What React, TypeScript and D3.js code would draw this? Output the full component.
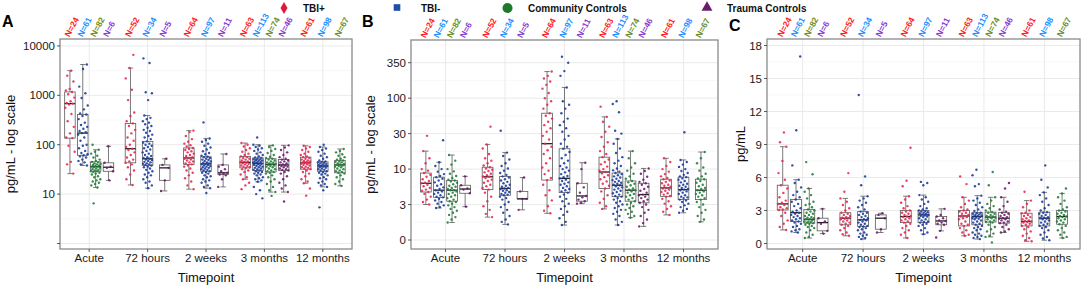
import React from "react";
import * as d3 from "d3";

const timepoints = ["Acute", "72 hours", "2 weeks", "3 months", "12 months"];
const groupNames = ["TBI+", "TBI-", "Community Controls", "Trauma Controls"];
// groups present at each timepoint (index into groupNames)
const groupsAtTp = [[0, 1, 2, 3], [0, 1, 3], [0, 1, 3], [0, 1, 2, 3], [0, 1, 2]];
const nAtTp = [[24, 61, 82, 6], [52, 34, 5], [64, 97, 11], [63, 113, 74, 46], [61, 98, 67]];

const pointColors = ["#e62a52", "#1c3d9c", "#23803a", "#6d1c6d"];
const labelColors = ["#ff1a1a", "#1e8fff", "#6b8e23", "#8a3bd1"];
const legendColors = ["#e3173c", "#1f4fa5", "#1d7a2b", "#6a1d6a"];

// ---------- Panel A (log scale) ----------
// box stats: [lower whisker, q1, median, q3, upper whisker]
const boxA = [
  [[26, 136, 680, 1170, 3160], [38, 61, 172, 410, 4200], [13.6, 29, 36, 45, 79], [19, 29, 35, 43, 93]],
  [[15.3, 43, 83, 270, 3560], [13.2, 38, 52, 117, 390], [11.6, 19, 34, 39, 52]],
  [[12.6, 40, 54, 86, 193], [13.2, 29, 41, 57, 134], [14, 25, 27, 39, 65]],
  [[20, 34, 44, 58, 108], [17.7, 30, 42, 54, 100], [11, 28, 40, 52, 97], [11, 30, 39, 50, 97]],
  [[16.6, 32, 43, 56, 95], [14, 29, 37, 45, 90], [14.7, 27, 39, 48, 82]],
];
const ptsA_acute = [
  [3160, 2500, 1900, 1350, 1250, 1170, 1050, 900, 760, 700, 680, 650, 560, 420, 300, 230, 170, 140, 136, 95, 72, 45, 40, 26],
  [4200, 3400, 1500, 1100, 880, 620, 520, 430, 410, 380, 330, 280, 250, 230, 210, 190, 180, 172, 160, 140, 120, 100, 95, 85, 75, 68, 64, 61, 58, 55, 50, 47, 44, 40, 38],
  [100, 79, 72, 66, 60, 55, 50, 47, 45, 44, 42, 41, 40, 39, 38, 37, 36, 36, 35, 34, 33, 32, 31, 30, 29, 29, 28, 27, 26, 25, 23, 22, 20, 19, 18, 17, 16, 15, 13.6, 6.5],
  [93, 43, 36, 34, 29, 19],
];
const ptsA_72h = [
  [6600, 3560, 2200, 1300, 800, 450, 380, 300, 270, 240, 200, 170, 140, 120, 100, 90, 83, 78, 70, 62, 55, 50, 46, 43, 40, 35, 30, 25, 20, 15.3],
  [5600, 4500, 1150, 1100, 800, 390, 350, 330, 300, 280, 260, 240, 220, 200, 190, 175, 160, 150, 140, 130, 117, 110, 105, 100, 95, 90, 85, 80, 75, 70, 66, 62, 59, 56, 54, 52, 50, 49, 47, 45, 44, 42, 41, 40, 39, 38, 36, 35, 33, 31, 29, 27, 25, 24, 22, 20, 18, 17, 15, 13.2],
  [52, 39, 34, 19, 11.6],
];
const ptsA_2w = [
  [193, 180, 150, 130, 115, 105, 98, 92, 86, 82, 78, 74, 70, 66, 62, 59, 56, 54, 52, 50, 48, 46, 44, 42, 40, 38, 36, 33, 30, 27, 24, 21, 18, 15, 12.6],
  [283, 134, 125, 115, 105, 95, 88, 80, 74, 68, 64, 60, 57, 56, 54, 52, 50, 49, 47, 46, 44, 43, 42, 41, 40, 39, 38, 37, 36, 35, 34, 33, 32, 31, 30, 29, 28, 27, 26, 24, 23, 22, 20, 19, 18, 17, 15, 14, 13.2, 10.5],
  [65, 39, 36, 32, 29, 27, 26, 25, 24, 20, 14],
];
const ptsA_3m = [
  [108, 100, 92, 85, 78, 72, 66, 62, 58, 56, 54, 52, 50, 48, 46, 45, 44, 43, 42, 41, 40, 38, 37, 36, 35, 34, 32, 30, 28, 25, 22, 20, 17, 15, 12.6],
  [140, 100, 95, 90, 85, 80, 75, 70, 66, 62, 58, 55, 54, 52, 51, 50, 49, 48, 47, 46, 45, 44, 43, 42, 42, 41, 40, 39, 38, 37, 36, 35, 34, 33, 32, 31, 30, 29, 28, 27, 26, 25, 24, 22, 21, 20, 19, 17.7, 14, 12, 10, 8.2],
  [97, 90, 82, 75, 68, 62, 57, 54, 52, 50, 48, 46, 44, 43, 42, 41, 40, 39, 38, 37, 36, 35, 33, 32, 30, 29, 28, 27, 26, 24, 22, 20, 18, 16, 14, 12, 11, 9.2],
  [97, 88, 78, 70, 62, 56, 52, 50, 48, 46, 44, 42, 40, 39, 38, 37, 36, 35, 33, 32, 31, 30, 28, 26, 23, 20, 17, 15, 13, 11, 7.1],
];
const ptsA_12m = [
  [95, 90, 84, 78, 72, 66, 62, 58, 56, 54, 52, 50, 48, 47, 46, 45, 44, 43, 42, 41, 40, 39, 38, 36, 35, 34, 33, 32, 30, 28, 26, 23, 20, 18, 16.6, 13, 9.3],
  [100, 90, 84, 78, 72, 66, 60, 56, 52, 48, 46, 45, 44, 43, 42, 41, 40, 39, 38, 37, 37, 36, 35, 34, 33, 32, 31, 30, 29, 28, 27, 26, 25, 24, 22, 21, 20, 18, 17, 16, 15, 14, 12, 5.4],
  [82, 75, 70, 64, 60, 56, 52, 50, 48, 46, 45, 44, 42, 41, 40, 39, 38, 37, 36, 35, 33, 32, 30, 29, 28, 27, 26, 24, 22, 20, 18, 16, 14.7],
];

// ---------- Panel B (pseudo-log scale) ----------
const boxB = [
  [[3.0, 4.7, 6.3, 8.8, 17.5], [2.6, 3.9, 5.0, 7.7, 12.4], [1.25, 3.4, 5.0, 6.9, 15.5], [2.75, 4.5, 5.2, 5.9, 7.9]],
  [[1.7, 5.1, 7.8, 10.6, 21.5], [1.1, 4.2, 5.3, 7.9, 16.7], [2.4, 3.7, 3.7, 4.8, 7.6]],
  [[2.05, 7.0, 22, 60, 256], [1.05, 4.6, 7.4, 18.8, 146], [3.1, 3.4, 4.1, 6.3, 12.2]],
  [[2.5, 5.3, 9.1, 14.5, 53], [1.05, 4.0, 5.9, 8.8, 25.5], [1.65, 3.4, 5.0, 6.8, 17.5], [0.95, 3.2, 4.3, 6.3, 10.2]],
  [[1.9, 4.0, 5.4, 7.2, 14], [2.1, 3.6, 5.1, 7.7, 13.3], [1.3, 3.6, 5.0, 7.2, 17]],
];
const ptsB_acute = [
  [28, 17.5, 14, 12, 10, 9.5, 8.8, 8.3, 7.8, 7.2, 6.8, 6.4, 6.3, 6.0, 5.7, 5.4, 5.1, 4.9, 4.7, 4.4, 4.0, 3.6, 3.3, 3.0],
  [24.5, 12.4, 11, 10, 9.2, 8.5, 8, 7.7, 7.3, 6.9, 6.5, 6.1, 5.8, 5.5, 5.2, 5.0, 4.8, 4.6, 4.4, 4.2, 4.0, 3.9, 3.7, 3.5, 3.3, 3.1, 2.9, 2.7, 2.6],
  [15.5, 13, 11.5, 10, 9.3, 8.6, 8, 7.5, 7.1, 6.9, 6.7, 6.4, 6.1, 5.8, 5.6, 5.4, 5.2, 5.0, 5.0, 4.8, 4.6, 4.4, 4.2, 4.0, 3.8, 3.6, 3.4, 3.3, 3.1, 2.9, 2.7, 2.5, 2.3, 2.1, 1.9, 1.7, 1.5, 1.25],
  [7.9, 5.9, 5.3, 5.1, 4.5, 2.75],
];
const ptsB_72h = [
  [38, 21.5, 19, 16, 14, 13, 12, 11.2, 10.6, 10.2, 9.8, 9.4, 9, 8.6, 8.2, 7.9, 7.8, 7.5, 7.1, 6.8, 6.4, 6.0, 5.7, 5.4, 5.1, 4.6, 4.0, 3.4, 2.8, 2.4, 2.0, 1.7],
  [33, 16.7, 15, 13.5, 12, 11, 10.2, 9.5, 8.8, 8.3, 7.9, 7.6, 7.2, 6.9, 6.6, 6.3, 6.0, 5.8, 5.6, 5.4, 5.3, 5.2, 5.0, 4.9, 4.7, 4.6, 4.4, 4.3, 4.2, 4.0, 3.8, 3.6, 3.3, 3.0, 2.7, 2.4, 2.1, 1.8, 1.5, 1.3, 1.1],
  [7.6, 4.8, 3.7, 3.7, 2.4],
];
const ptsB_2w = [
  [256, 220, 200, 180, 160, 140, 120, 100, 90, 80, 70, 60, 55, 50, 45, 40, 36, 32, 28, 25, 22, 20, 18, 16, 14, 12, 10.5, 9.5, 8.5, 7.5, 7.0, 6.0, 5.0, 4.2, 3.5, 2.8, 2.3, 2.05],
  [433, 350, 260, 220, 146, 90, 80, 70, 60, 50, 45, 40, 36, 32, 28, 25, 22, 20, 18.8, 17, 15.5, 14, 13, 12, 11, 10.5, 10, 9.5, 9, 8.5, 8, 7.7, 7.4, 7.1, 6.8, 6.5, 6.2, 6.0, 5.7, 5.4, 5.2, 5.0, 4.8, 4.6, 4.3, 4.0, 3.7, 3.4, 3.1, 2.8, 2.5, 2.2, 1.9, 1.6, 1.3, 1.05],
  [12.2, 10, 6.3, 5.5, 4.6, 4.1, 3.9, 3.6, 3.4, 3.2, 3.1],
];
const ptsB_3m = [
  [75, 53, 45, 38, 32, 27, 23, 20, 17.5, 16, 14.5, 13.5, 12.5, 11.6, 10.8, 10, 9.5, 9.1, 8.7, 8.2, 7.7, 7.2, 6.7, 6.2, 5.8, 5.3, 4.8, 4.2, 3.7, 3.2, 2.8, 2.5],
  [90, 82, 62, 33, 30, 25.5, 22, 19, 16.5, 14.5, 13, 12, 11, 10.2, 9.6, 9.2, 8.8, 8.5, 8.2, 7.9, 7.6, 7.3, 7.0, 6.8, 6.6, 6.4, 6.2, 6.0, 5.9, 5.7, 5.5, 5.3, 5.1, 4.9, 4.7, 4.5, 4.3, 4.1, 4.0, 3.8, 3.6, 3.4, 3.2, 3.0, 2.8, 2.6, 2.4, 2.2, 2.0, 1.8, 1.5, 1.3, 1.05],
  [17.5, 14, 12, 10.5, 9.5, 8.6, 7.9, 7.3, 6.8, 6.5, 6.2, 5.9, 5.6, 5.3, 5.1, 5.0, 4.8, 4.6, 4.4, 4.2, 4.0, 3.8, 3.6, 3.4, 3.2, 3.0, 2.8, 2.6, 2.4, 2.2, 2.0, 1.8, 1.65],
  [10.2, 9.4, 8.6, 7.8, 7.1, 6.6, 6.3, 6.0, 5.6, 5.2, 4.9, 4.6, 4.3, 4.2, 4.0, 3.8, 3.6, 3.4, 3.2, 3.0, 2.7, 2.4, 2.1, 1.8, 1.5, 1.2, 0.95],
];
const ptsB_12m = [
  [14, 12.5, 11, 10, 9.2, 8.5, 7.9, 7.5, 7.2, 6.9, 6.6, 6.3, 6.0, 5.8, 5.6, 5.4, 5.3, 5.1, 4.9, 4.7, 4.5, 4.3, 4.1, 4.0, 3.7, 3.4, 3.1, 2.8, 2.5, 2.2, 1.9],
  [31.5, 13.3, 12.5, 11.5, 10.7, 10, 9.4, 8.8, 8.3, 7.9, 7.7, 7.4, 7.1, 6.8, 6.5, 6.2, 6.0, 5.8, 5.6, 5.4, 5.2, 5.1, 5.0, 4.8, 4.6, 4.4, 4.2, 4.0, 3.9, 3.8, 3.6, 3.5, 3.3, 3.1, 2.9, 2.7, 2.5, 2.3, 2.1],
  [17, 14, 12, 10.5, 9.5, 8.6, 7.9, 7.4, 7.2, 6.8, 6.4, 6.0, 5.7, 5.4, 5.2, 5.0, 4.8, 4.6, 4.4, 4.2, 4.0, 3.8, 3.6, 3.3, 3.0, 2.7, 2.4, 2.1, 1.8, 1.5, 1.3],
];

// ---------- Panel C (linear) ----------
const boxC = [
  [[1.23, 3.05, 3.6, 5.3, 8.8], [1.0, 2.0, 2.8, 4.0, 5.8], [0.5, 1.85, 2.2, 3.1, 5.0], [0.9, 1.15, 1.9, 2.3, 3.15]],
  [[0.7, 1.7, 2.3, 2.8, 4.1], [0.4, 1.55, 2.15, 2.9, 4.3], [1.0, 1.3, 2.3, 2.6, 2.75]],
  [[0.5, 1.9, 2.45, 3.0, 4.3], [0.85, 1.9, 2.6, 3.0, 4.4], [1.15, 1.7, 2.05, 2.45, 3.15]],
  [[0.7, 1.6, 2.5, 3.0, 4.2], [0.4, 1.7, 2.45, 2.8, 4.35], [0.6, 1.95, 2.4, 2.85, 4.2], [1.0, 1.85, 2.3, 2.8, 4.2]],
  [[0.2, 1.6, 2.0, 2.75, 3.9], [0.3, 1.6, 2.3, 2.85, 4.65], [0.5, 1.75, 2.45, 3.0, 4.55]],
];
const ptsC_acute = [
  [10.1, 9.2, 8.8, 7.5, 6.4, 5.8, 5.3, 5.0, 4.6, 4.2, 3.9, 3.7, 3.6, 3.5, 3.3, 3.2, 3.1, 3.05, 2.8, 2.5, 2.1, 1.8, 1.5, 1.23],
  [17, 10.3, 7.1, 5.8, 5.5, 5.1, 4.7, 4.4, 4.2, 4.0, 3.8, 3.6, 3.4, 3.2, 3.0, 2.9, 2.8, 2.7, 2.6, 2.5, 2.4, 2.3, 2.2, 2.1, 2.0, 1.9, 1.8, 1.6, 1.5, 1.3, 1.2, 1.1, 1.0],
  [7.4, 6.3, 5.0, 4.7, 4.4, 4.1, 3.8, 3.6, 3.5, 3.3, 3.1, 3.0, 2.9, 2.8, 2.7, 2.6, 2.5, 2.4, 2.35, 2.3, 2.2, 2.2, 2.1, 2.0, 2.0, 1.95, 1.9, 1.85, 1.8, 1.7, 1.6, 1.5, 1.4, 1.2, 1.0, 0.8, 0.6, 0.5],
  [3.15, 2.3, 2.0, 1.8, 1.15, 0.9],
];
const ptsC_72h = [
  [6.4, 4.7, 4.1, 3.8, 3.5, 3.2, 3.0, 2.8, 2.7, 2.6, 2.5, 2.4, 2.35, 2.3, 2.25, 2.2, 2.1, 2.0, 1.9, 1.8, 1.7, 1.6, 1.4, 1.2, 1.0, 0.85, 0.7],
  [13.5, 6.1, 5.3, 4.3, 4.1, 3.9, 3.7, 3.5, 3.3, 3.1, 2.9, 2.8, 2.7, 2.6, 2.5, 2.4, 2.3, 2.2, 2.15, 2.1, 2.0, 1.9, 1.8, 1.7, 1.6, 1.55, 1.5, 1.4, 1.3, 1.2, 1.0, 0.9, 0.8, 0.7, 0.6, 0.5, 0.4],
  [2.75, 2.6, 2.3, 1.3, 1.0],
];
const ptsC_2w = [
  [8.7, 5.7, 5.2, 4.3, 4.0, 3.7, 3.4, 3.2, 3.0, 2.9, 2.8, 2.7, 2.6, 2.5, 2.45, 2.4, 2.3, 2.2, 2.1, 2.0, 1.9, 1.8, 1.6, 1.4, 1.2, 1.0, 0.8, 0.5],
  [5.6, 5.5, 5.3, 4.4, 4.2, 4.0, 3.8, 3.6, 3.4, 3.2, 3.1, 3.0, 2.95, 2.9, 2.85, 2.8, 2.75, 2.7, 2.65, 2.6, 2.55, 2.5, 2.45, 2.4, 2.3, 2.2, 2.1, 2.0, 1.95, 1.9, 1.8, 1.7, 1.6, 1.4, 1.2, 1.0, 0.85],
  [3.15, 2.6, 2.45, 2.3, 2.1, 2.05, 1.9, 1.8, 1.7, 1.15, 0.55],
];
const ptsC_3m = [
  [6.1, 5.4, 4.2, 3.9, 3.6, 3.3, 3.1, 3.0, 2.9, 2.8, 2.7, 2.6, 2.5, 2.45, 2.4, 2.3, 2.2, 2.0, 1.8, 1.7, 1.6, 1.4, 1.2, 1.0, 0.8, 0.7],
  [6.7, 6.2, 5.4, 5.2, 4.35, 4.1, 3.9, 3.7, 3.5, 3.3, 3.1, 2.95, 2.8, 2.75, 2.7, 2.65, 2.6, 2.55, 2.5, 2.45, 2.4, 2.35, 2.3, 2.25, 2.2, 2.1, 2.0, 1.9, 1.8, 1.7, 1.6, 1.5, 1.4, 1.3, 1.2, 1.0, 0.9, 0.8, 0.7, 0.6, 0.5, 0.4],
  [6.5, 5.3, 4.2, 3.9, 3.6, 3.4, 3.2, 3.0, 2.85, 2.8, 2.7, 2.6, 2.5, 2.45, 2.4, 2.35, 2.3, 2.2, 2.1, 2.0, 1.95, 1.9, 1.7, 1.5, 1.3, 1.1, 0.9, 0.7, 0.6, 0.1],
  [5.5, 5.0, 4.2, 3.8, 3.4, 3.1, 2.9, 2.8, 2.7, 2.6, 2.5, 2.4, 2.3, 2.25, 2.2, 2.1, 2.0, 1.9, 1.85, 1.7, 1.5, 1.3, 1.1, 1.0],
];
const ptsC_12m = [
  [4.7, 3.9, 3.6, 3.3, 3.0, 2.8, 2.75, 2.6, 2.5, 2.4, 2.3, 2.2, 2.1, 2.05, 2.0, 1.95, 1.9, 1.8, 1.7, 1.6, 1.5, 1.3, 1.1, 0.9, 0.7, 0.5, 0.3, 0.2],
  [7.1, 5.8, 5.1, 4.65, 4.4, 4.1, 3.8, 3.5, 3.2, 3.0, 2.85, 2.8, 2.7, 2.6, 2.5, 2.4, 2.35, 2.3, 2.25, 2.2, 2.1, 2.0, 1.9, 1.8, 1.7, 1.6, 1.5, 1.4, 1.2, 1.0, 0.8, 0.6, 0.45, 0.3],
  [5.0, 4.55, 4.2, 3.9, 3.6, 3.3, 3.1, 3.0, 2.9, 2.8, 2.7, 2.6, 2.5, 2.45, 2.4, 2.3, 2.2, 2.1, 2.0, 1.9, 1.75, 1.6, 1.4, 1.2, 1.0, 0.8, 0.6, 0.5],
];

const ticksA = [1, 10, 100, 1000, 10000];
const tickLabelsA = ["", "10", "100", "1000", "10000"];
const ticksB = [0, 3, 10, 30, 100, 350];
const ticksC = [0, 3, 6, 9, 12, 15, 18];

const FONT = "'Liberation Sans', Arial, Helvetica, sans-serif";

type PanelCfg = {
  key: string;
  letter: string;
  letterX: number;
  letterY: number;
  x0: number;
  x1: number;
  y0: number;
  y1: number;
  pad: number;
  y: (v: number) => number;
  ticks: number[];
  tickLabels: string[];
  minor: number[];
  ylabel: string;
  ylabelX: number;
  boxes: number[][][];
  pts: number[][][];
};

function makePanels(): PanelCfg[] {
  const yA = d3.scaleLog().domain([Math.pow(10, -0.111), Math.pow(10, 4.14)]).range([249, 39]);
  const tB = (v: number) => Math.asinh(v / 2);
  const yBlin = d3
    .scaleLinear()
    .domain(ticksB.map(tB))
    .range(ticksB.map((_, i) => 240 - i * 35.46));
  const yB = (v: number) => yBlin(tB(v));
  const yC = d3.scaleLinear().domain([0, 18]).range([243.5, 45.5]);

  const minorA = [0.5, 1.5, 2.5, 3.5].map((e) => yA(Math.pow(10, e)));
  const majB = ticksB.map(yB);
  const minorB = majB.slice(1).map((p, i) => (p + majB[i]) / 2);
  minorB.push(majB[majB.length - 1] - (majB[0] - majB[1]) / 2);
  const minorC = [1.5, 4.5, 7.5, 10.5, 13.5, 16.5].map((v) => yC(v));

  return [
    {
      key: "A", letter: "A", letterX: 2, letterY: 26.5,
      x0: 60, x1: 352, y0: 39, y1: 249, pad: 0.5,
      y: (v) => yA(v), ticks: ticksA, tickLabels: tickLabelsA, minor: minorA,
      ylabel: "pg/mL - log scale", ylabelX: 14.5,
      boxes: boxA, pts: [ptsA_acute, ptsA_72h, ptsA_2w, ptsA_3m, ptsA_12m],
    },
    {
      key: "B", letter: "B", letterX: 362, letterY: 26.5,
      x0: 411, x1: 718, y0: 40, y1: 249, pad: 0.58,
      y: yB, ticks: ticksB, tickLabels: ticksB.map(String), minor: minorB,
      ylabel: "pg/mL - log scale", ylabelX: 374.5,
      boxes: boxB, pts: [ptsB_acute, ptsB_72h, ptsB_2w, ptsB_3m, ptsB_12m],
    },
    {
      key: "C", letter: "C", letterX: 729, letterY: 30.5,
      x0: 767, x1: 1080, y0: 39, y1: 249, pad: 0.59,
      y: (v) => yC(v), ticks: ticksC, tickLabels: ticksC.map(String), minor: minorC,
      ylabel: "pg/mL", ylabelX: 745,
      boxes: boxC, pts: [ptsC_acute, ptsC_72h, ptsC_2w, ptsC_3m, ptsC_12m],
    },
  ];
}

function Panel({ p }: { p: PanelCfg }) {
  const x = d3.scalePoint<string>().domain(timepoints).range([p.x0, p.x1]).padding(p.pad);
  const step = x.step();
  const dodge = 0.88;
  const bw = 0.18 * step;
  const cw = 0.09 * step;
  const jw = 0.085 * step;
  const cy = (p.y0 + p.y1) / 2;

  const boxesEl: React.ReactNode[] = [];
  const ptsEl: React.ReactNode[] = [];
  const labelsEl: React.ReactNode[] = [];

  timepoints.forEach((tp, ti) => {
    const gs = groupsAtTp[ti];
    const n = gs.length;
    const cx0 = x(tp) as number;
    gs.forEach((g, k) => {
      const cx = cx0 + (k - (n - 1) / 2) * (dodge / n) * step;
      const [lo, q1, md, q3, hi] = p.boxes[ti][k];
      const key = `${p.key}-${ti}-${k}`;
      boxesEl.push(
        <g key={key} stroke="#5a5a5a" fill="none" strokeWidth={0.8}>
          <line x1={cx} x2={cx} y1={p.y(hi)} y2={p.y(q3)} />
          <line x1={cx} x2={cx} y1={p.y(q1)} y2={p.y(lo)} />
          <line x1={cx - cw / 2} x2={cx + cw / 2} y1={p.y(hi)} y2={p.y(hi)} />
          <line x1={cx - cw / 2} x2={cx + cw / 2} y1={p.y(lo)} y2={p.y(lo)} />
          <rect x={cx - bw / 2} y={p.y(q3)} width={bw} height={Math.max(0.5, p.y(q1) - p.y(q3))} />
          <line x1={cx - bw / 2} x2={cx + bw / 2} y1={p.y(md)} y2={p.y(md)} stroke="#222" strokeWidth={1.3} />
        </g>
      );
      const vals = p.pts[ti][k];
      vals.forEach((v, i) => {
        const f = (((i + 1) * 0.6180339887 + g * 0.29 + ti * 0.17) % 1) - 0.5;
        ptsEl.push(
          <circle key={`${key}-p${i}`} cx={cx + f * 2 * jw} cy={p.y(v)} r={1.2} fill={pointColors[g]} fillOpacity={0.9} />
        );
      });
      labelsEl.push(
        <text
          key={`${key}-n`}
          transform={`translate(${cx - 3},${p.y0 - 3}) rotate(-62)`}
          fontSize={8.5}
          fontWeight="bold"
          fill={labelColors[g]}
          dy="0.35em"
          textAnchor="start"
        >
          {`N=${nAtTp[ti][k]}`}
        </text>
      );
    });
  });

  return (
    <g fontFamily={FONT}>
      <rect x={p.x0} y={p.y0} width={p.x1 - p.x0} height={p.y1 - p.y0} fill="#fff" />
      {p.minor.map((m, i) =>
        m > p.y0 && m < p.y1 ? (
          <line key={`mi${i}`} x1={p.x0} x2={p.x1} y1={m} y2={m} stroke="#f3f3f3" strokeWidth={0.6} />
        ) : null
      )}
      {p.ticks.map((t, i) => (
        <line key={`mg${i}`} x1={p.x0} x2={p.x1} y1={p.y(t)} y2={p.y(t)} stroke="#e8e8e8" strokeWidth={0.9} />
      ))}
      {timepoints.map((tp) => (
        <line key={`vg${tp}`} x1={x(tp)} x2={x(tp)} y1={p.y0} y2={p.y1} stroke="#e8e8e8" strokeWidth={0.9} />
      ))}
      {boxesEl}
      {ptsEl}
      <rect x={p.x0} y={p.y0} width={p.x1 - p.x0} height={p.y1 - p.y0} fill="none" stroke="#8a8a8a" strokeWidth={1.3} />
      {p.ticks.map((t, i) => (
        <g key={`yt${i}`}>
          <line x1={p.x0 - 3} x2={p.x0} y1={p.y(t)} y2={p.y(t)} stroke="#333" strokeWidth={0.8} />
          <text x={p.x0 - 5} y={p.y(t)} dy="0.36em" textAnchor="end" fontSize={11.5} fill="#1a1a1a">
            {p.tickLabels[i]}
          </text>
        </g>
      ))}
      {timepoints.map((tp) => (
        <g key={`xt${tp}`}>
          <line x1={x(tp)} x2={x(tp)} y1={p.y1} y2={p.y1 + 3} stroke="#333" strokeWidth={0.8} />
          <text x={x(tp)} y={p.y1 + 13} textAnchor="middle" fontSize={11.5} fill="#1a1a1a">
            {tp}
          </text>
        </g>
      ))}
      <text x={(p.x0 + p.x1) / 2} y={281.5} textAnchor="middle" fontSize={13} fill="#111">
        Timepoint
      </text>
      <text
        transform={`translate(${p.ylabelX},${cy}) rotate(-90)`}
        textAnchor="middle"
        fontSize={13}
        fill="#111"
      >
        {p.ylabel}
      </text>
      <text x={p.letterX} y={p.letterY} fontSize={16} fontWeight="bold" fill="#000">
        {p.letter}
      </text>
      {labelsEl}
    </g>
  );
}

function Legend() {
  const sym = (type: d3.SymbolType, size: number) => d3.symbol(type, size)() as string;
  const items = [
    { sx: 284, sy: 8, tx: 303, path: sym(d3.symbolDiamond, 42) },
    { sx: 397, sy: 7.5, tx: 421, path: sym(d3.symbolSquare, 44) },
    { sx: 507.5, sy: 8, tx: 528, path: sym(d3.symbolCircle, 80) },
    { sx: 707, sy: 7.5, tx: 727, path: sym(d3.symbolTriangle, 52) },
  ];
  return (
    <g fontFamily={FONT}>
      {items.map((it, i) => (
        <g key={i}>
          <path d={it.path} transform={`translate(${it.sx},${it.sy})`} fill={legendColors[i]} />
          <text x={it.tx} y={11.5} fontSize={10} fontWeight="bold" fill="#111">
            {groupNames[i]}
          </text>
        </g>
      ))}
    </g>
  );
}

export default function App() {
  const panels = makePanels();
  return (
    <svg
      width={1084}
      height={288}
      viewBox="0 0 1084 288"
      style={{ position: "absolute", left: 0, top: 0, background: "#fff" }}
    >
      <rect width={1084} height={288} fill="#fff" />
      {panels.map((p) => (
        <Panel key={p.key} p={p} />
      ))}
      <Legend />
    </svg>
  );
}
